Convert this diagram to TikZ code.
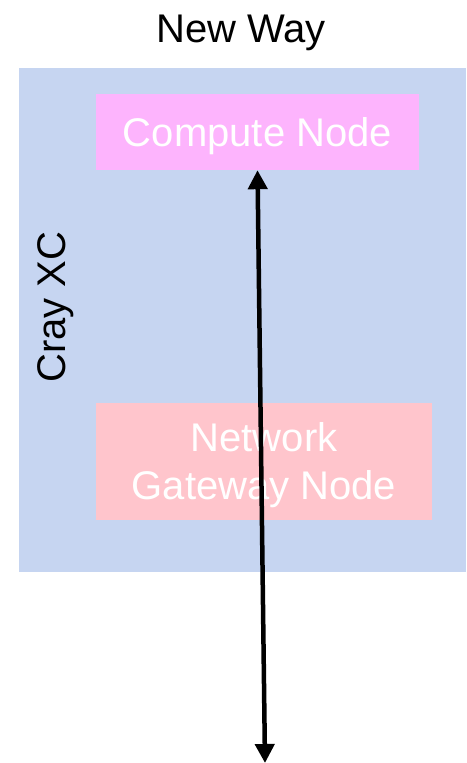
\documentclass[tikz,border=0pt]{standalone}
\usepackage{fontspec}
\setmainfont{Liberation Sans}
\usetikzlibrary{arrows.meta}
\definecolor{crayblue}{HTML}{C6D5F1}
\definecolor{computepink}{HTML}{FDB4FD}
\definecolor{gatewaypink}{HTML}{FFC5CC}
\tikzstyle{bigfont} = [font=\fontsize{40}{48}\selectfont]
\tikzstyle{craybox} = [fill=crayblue, draw=none, rectangle, inner sep=0pt]
\tikzstyle{nodebox} = [bigfont, draw=none, rectangle, inner sep=0pt, text=white, align=center]
\tikzstyle{link} = [line width=4.5pt, {Triangle[length=19pt,width=19pt]}-{Triangle[length=19pt,width=19pt]}]

\begin{document}
\begin{tikzpicture}[x=1pt, y=-1pt]
\useasboundingbox (0,0) rectangle (466,763);
\node [bigfont, text depth=0pt] (title) at (241,29) {New Way};
\node [craybox, minimum width=447pt, minimum height=504pt] (cray) at (242.5,320) {};
\node [bigfont, rotate=90] (craylabel) at (56,307) {Cray XC};
\node [nodebox, fill=computepink, minimum width=323pt, minimum height=76pt, text depth=0pt] (compute) at (257.5,132) {Compute Node};
\node [nodebox, fill=gatewaypink, minimum width=336pt, minimum height=117pt] (gateway) at (264,461.5) {};
\node [bigfont, text=white, align=center, inner sep=0pt] (gatewaylabel) at (264,465) {Network\\Gateway Node};
\coordinate (outside) at (265,763);
\draw [link] (compute.south) -- (outside);
\end{tikzpicture}
\end{document}
